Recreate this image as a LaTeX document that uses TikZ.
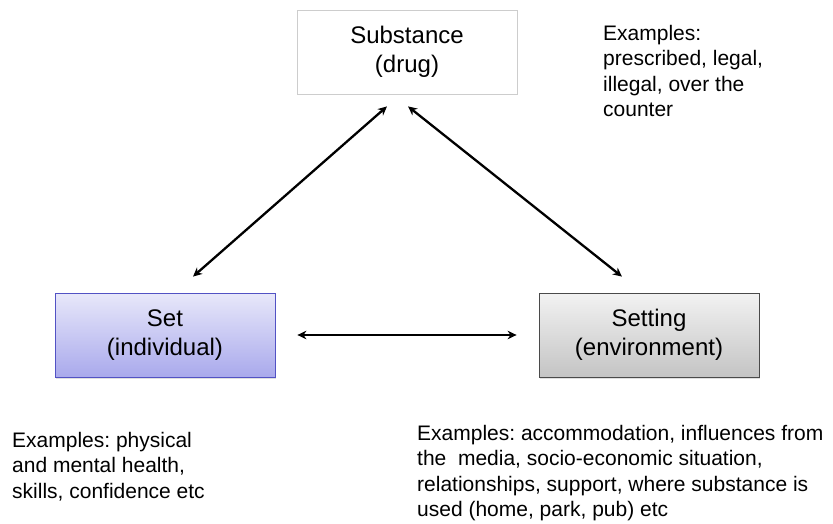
\documentclass[tikz,border=0pt]{standalone}
\usepackage{fontspec}
\setmainfont{Liberation Sans}
\usetikzlibrary{arrows.meta,shadows,calc}
\definecolor{setTop}{HTML}{E8E8FA}
\definecolor{setBot}{HTML}{A9A9EC}
\definecolor{setLine}{HTML}{5252C4}
\definecolor{envTop}{HTML}{F2F2F2}
\definecolor{envBot}{HTML}{C4C4C4}
\definecolor{envLine}{HTML}{4A4A4A}
\definecolor{subLine}{HTML}{CDCDCD}
\tikzset{
  boxbase/.style={minimum width=220pt, minimum height=84pt, inner sep=0pt, align=center,
    font=\frenchspacing\fontsize{24}{28.8}\selectfont, line width=0.8pt,
    drop shadow={opacity=0.25, shadow xshift=1.2pt, shadow yshift=-1.5pt}},
  subbox/.style={boxbase, draw=subLine, fill=white},
  setbox/.style={boxbase, draw=setLine, top color=setTop, bottom color=setBot},
  envbox/.style={boxbase, draw=envLine, top color=envTop, bottom color=envBot},
  notetext/.style={anchor=north west, inner sep=0pt, align=left, font=\frenchspacing\fontsize{21}{25.5}\selectfont},
  link/.style={line width=2.3pt, {Stealth[length=9pt,width=8.5pt]}-{Stealth[length=9pt,width=8.5pt]}}
}
\begin{document}
\begin{tikzpicture}[x=1pt,y=-1pt]
\useasboundingbox[fill=white] (0,0) rectangle (833,524);
\node[subbox] (sub) at (407,52) {Substance\\(drug)};
\node[setbox] (set) at (165,335) {Set\\(individual)};
\node[envbox] (env) at (649,335) {Setting\\(environment)};

\node[notetext] (subnote) at (603,25) {Examples:\\prescribed, legal,\\illegal, over the\\counter};
\node[notetext] (setnote) at (12,432) {Examples: physical\\and mental health,\\skills, confidence etc};
\node[notetext] (envnote) at (417,425) {Examples: accommodation, influences from\\the\ \ media, socio-economic situation,\\relationships, support, where substance is\\used (home, park, pub) etc};

\coordinate (a1) at ($(set.north)+(28,-16)$);
\coordinate (a2) at ($(sub.south)+(-20,12)$);
\coordinate (b1) at ($(sub.south)+(1,12)$);
\coordinate (b2) at ($(env.north)+(-27,-16)$);
\draw[link] (a1) -- (a2);
\draw[link] (b1) -- (b2);
\draw[link, shorten <=22pt, shorten >=22pt] (set.east) -- (env.west);
\end{tikzpicture}
\end{document}
